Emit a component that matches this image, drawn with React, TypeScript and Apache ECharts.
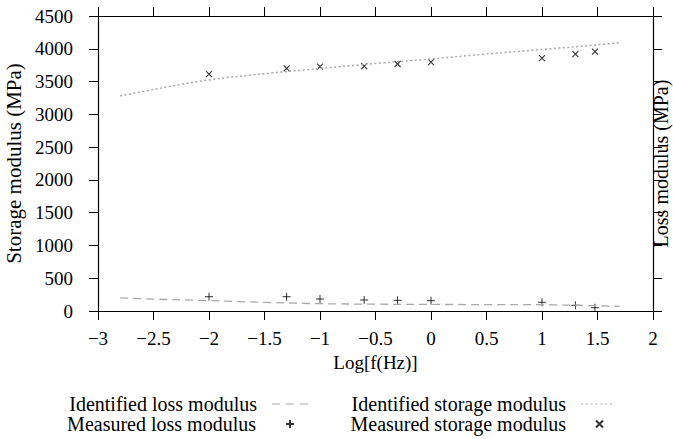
import React, { useEffect, useRef } from "react";
import * as echarts from "echarts";

const logFreq = [-2, -1.301, -1, -0.602, -0.301, 0, 1, 1.301, 1.477];
const measuredStorage = [3615, 3702, 3727, 3737, 3768, 3798, 3859, 3920, 3955];
const measuredLoss = [218, 218, 183, 168, 163, 157, 133, 87, 50];

const fitX = [-2.8, -2.5, -2, -1.5, -1, -0.5, 0, 0.5, 1, 1.5, 1.7];
const identifiedStorage = [3280, 3380, 3525, 3620, 3700, 3775, 3845, 3920, 3990, 4060, 4095];
const identifiedLoss = [200, 182, 158, 132, 112, 104, 100, 98, 95, 80, 70];

const FONT = "Liberation Serif";
const GRAY = "#a8a8a8";

const plusPath = "path://M0,5L10,5M5,0L5,10";
const crossPath = "path://M0,0L10,10M10,0L0,10";
const dashIcon = "path://M0,0h8v1h-8zM14,0h8v1h-8zM28,0h8v1h-8z";
const dotIcon = "path://M0,0h2v1h-2zM5,0h2v1h-2zM10,0h2v1h-2zM15,0h2v1h-2zM20,0h2v1h-2zM25,0h2v1h-2zM30,0h2v1h-2z";

const zip = (xs: number[], ys: number[]) => xs.map((x, i) => [x, ys[i]]);
const minus = (v: number) => String(v).replace("-", "\u2212");

export default function App() {
  const ref = useRef<HTMLDivElement>(null);
  useEffect(() => {
    if (!ref.current) return;
    const chart = echarts.init(ref.current, undefined, { renderer: "svg" });
    const tickStyle = { show: true, inside: false, length: 9, lineStyle: { color: "#000", width: 1 } };
    const lineAxis = { show: true, onZero: false, lineStyle: { color: "#000", width: 1.2 } };
    const txt = { fontFamily: FONT, fontSize: 20, color: "#000" };
    const legendBase = {
      orient: "horizontal" as const,
      align: "right" as const,
      padding: 0,
      selectedMode: false,
    };
    chart.setOption({
      animation: false,
      backgroundColor: "#fff",
      textStyle: { fontFamily: FONT },
      grid: { left: 98, right: 20, top: 16, bottom: 128, containLabel: false, outerBoundsMode: "none" },
      xAxis: [
        {
          type: "value",
          min: -3,
          max: 2,
          interval: 0.5,
          position: "bottom",
          name: "Log[f(Hz)]",
          nameLocation: "middle",
          nameGap: 37,
          nameTextStyle: { fontFamily: FONT, fontSize: 19, color: "#000" },
          axisLine: lineAxis,
          axisTick: tickStyle,
          axisLabel: { fontFamily: FONT, fontSize: 19, color: "#000", margin: 18, formatter: minus },
          splitLine: { show: false },
        },
        {
          type: "value",
          min: -3,
          max: 2,
          interval: 0.5,
          position: "top",
          axisLine: lineAxis,
          axisTick: tickStyle,
          axisLabel: { show: false },
          splitLine: { show: false },
        },
      ],
      yAxis: [
        {
          type: "value",
          min: 0,
          max: 4500,
          interval: 500,
          position: "left",
          name: "Storage modulus (MPa)",
          nameLocation: "middle",
          nameRotate: 90,
          nameGap: 66,
          nameTextStyle: { fontFamily: FONT, fontSize: 21, color: "#000" },
          axisLine: lineAxis,
          axisTick: tickStyle,
          axisLabel: { fontFamily: FONT, fontSize: 19, color: "#000", margin: 25, formatter: (v: number) => String(v) },
          splitLine: { show: false },
        },
        {
          type: "value",
          min: 0,
          max: 4500,
          interval: 500,
          position: "right",
          name: "Loss modulus (MPa)",
          nameLocation: "middle",
          nameRotate: 90,
          nameGap: -2,
          nameTextStyle: { fontFamily: FONT, fontSize: 20, color: "#000", verticalAlign: "top" },
          axisLine: lineAxis,
          axisTick: tickStyle,
          axisLabel: { show: false },
          splitLine: { show: false },
        },
      ],
      legend: [
        { ...legendBase, data: [{ name: "Identified loss modulus", icon: dashIcon }], right: 365, top: 394, itemWidth: 36, itemHeight: 1.3, textStyle: { ...txt, padding: [0, 10, 0, 0] }, itemStyle: { color: GRAY } },
        { ...legendBase, data: [{ name: "Identified storage modulus", icon: dotIcon }], right: 61, top: 394, itemWidth: 31, itemHeight: 1.3, textStyle: { ...txt, padding: [0, 10, 0, 0] }, itemStyle: { color: GRAY } },
        { ...legendBase, data: ["Measured loss modulus"], right: 378, top: 414, itemWidth: 8, itemHeight: 8, textStyle: { ...txt, padding: [0, 25, 0, 0] } },
        { ...legendBase, data: ["Measured storage modulus"], right: 69, top: 414, itemWidth: 7, itemHeight: 7, textStyle: { ...txt, padding: [0, 25, 0, 0] } },
      ],
      series: [
        {
          name: "Identified loss modulus",
          type: "line",
          smooth: 0.4,
          symbol: "none",
          data: zip(fitX, identifiedLoss),
          lineStyle: { color: GRAY, width: 1.3, type: [8, 5] },
          itemStyle: { color: GRAY },
        },
        {
          name: "Identified storage modulus",
          type: "line",
          smooth: 0.4,
          symbol: "none",
          data: zip(fitX, identifiedStorage),
          lineStyle: { color: GRAY, width: 1.5, type: [2, 2.5] },
          itemStyle: { color: GRAY },
        },
        {
          name: "Measured loss modulus",
          type: "scatter",
          symbol: plusPath,
          symbolSize: 8,
          data: zip(logFreq, measuredLoss),
          itemStyle: { color: "transparent", borderColor: "#000", borderWidth: 1 },
        },
        {
          name: "Measured storage modulus",
          type: "scatter",
          symbol: crossPath,
          symbolSize: 6,
          data: zip(logFreq, measuredStorage),
          itemStyle: { color: "transparent", borderColor: "#000", borderWidth: 1.1 },
        },
      ],
    });
    return () => chart.dispose();
  }, []);
  return <div ref={ref} style={{ width: 673, height: 439, position: "absolute", left: 0, top: 0 }} />;
}
